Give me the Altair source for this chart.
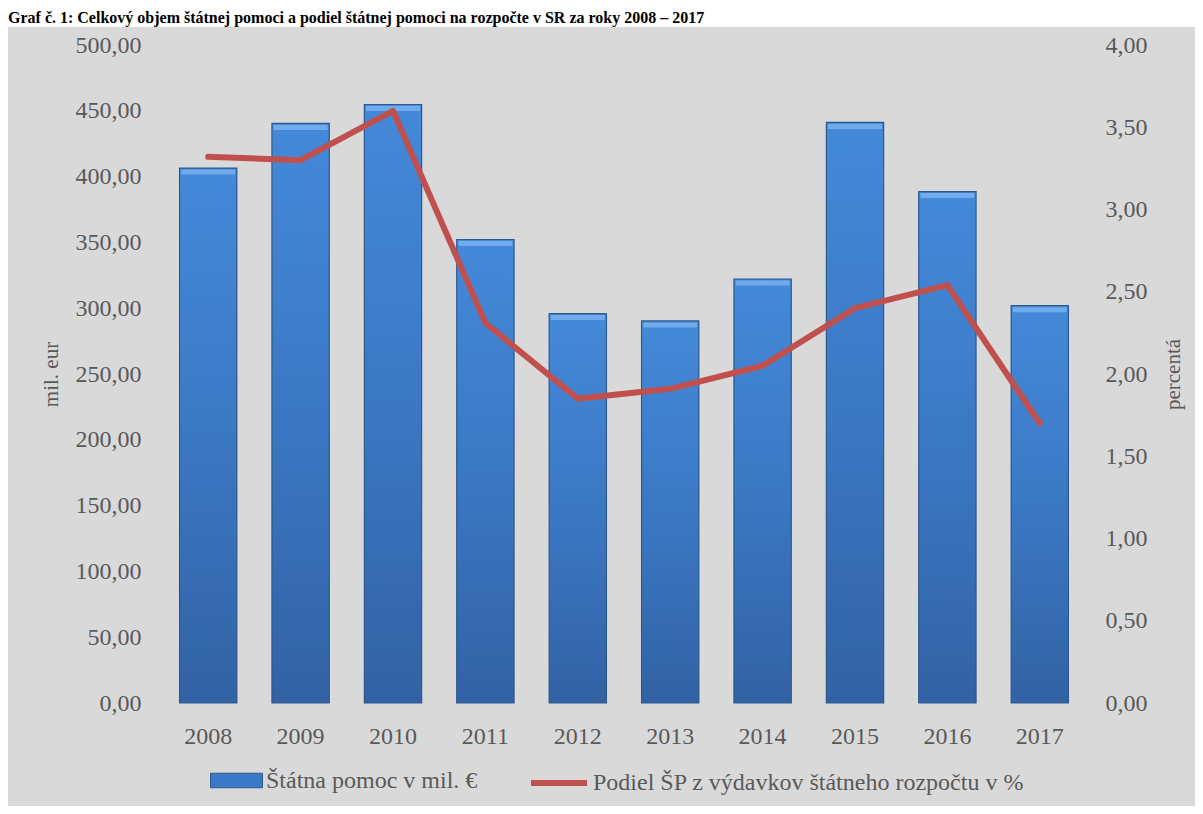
import altair as alt
import pandas as pd

years = ["2008", "2009", "2010", "2011", "2012", "2013", "2014", "2015", "2016", "2017"]
aid = [406.5, 440.4, 454.8, 352.2, 295.9, 290.3, 322.2, 441.2, 388.6, 301.9]
share = [3.32, 3.30, 3.60, 2.31, 1.85, 1.91, 2.05, 2.40, 2.54, 1.70]
bar_label = "Štátna pomoc v mil. €"
line_label = "Podiel ŠP z výdavkov štátneho rozpočtu v %"
left_ticks = [0, 50, 100, 150, 200, 250, 300, 350, 400, 450, 500]
right_ticks = [0, 0.5, 1, 1.5, 2, 2.5, 3, 3.5, 4]
title_text = "Graf č. 1: Celkový objem štátnej pomoci a podiel štátnej pomoci na rozpočte v SR za roky 2008 – 2017"

df = pd.DataFrame({"rok": years, "pomoc": aid, "podiel": share})
df["s1"] = bar_label
df["s2"] = line_label

FONT = "Liberation Serif"
GREY = "#595959"
LBL = "replace(format(datum.value, '.2f'), '.', ',')"
FS = 24

W, H = 924, 658
PAD = {"left": 154, "top": 37, "right": 109, "bottom": 103}

x = alt.X(
    "rok:N",
    title=None,
    scale=alt.Scale(paddingInner=0.38, paddingOuter=0.19),
    axis=alt.Axis(labelAngle=0, labelFont=FONT, labelFontSize=FS, labelColor=GREY,
                  domain=False, ticks=False, tickSize=0, labelPadding=21, zindex=1),
)

y_left = alt.Y(
    "pomoc:Q",
    scale=alt.Scale(domain=[0, 500], nice=False),
    axis=alt.Axis(orient="left", values=left_ticks, labelExpr=LBL, title="mil. eur",
                  grid=False, domain=False, ticks=False, tickSize=0, labelPadding=21,
                  labelFont=FONT, labelFontSize=FS, labelColor=GREY,
                  titleFont=FONT, titleFontSize=21, titleFontWeight="normal",
                  titleColor=GREY, titlePadding=14, zindex=1),
)

# light grey chart panel behind everything (below the white title strip)
panel = alt.Chart(pd.DataFrame({"k": [0]})).mark_rect(color="#d9d9d9", clip=False).encode(
    x=alt.value(-PAD["left"]),
    x2=alt.value(W + PAD["right"]),
    y=alt.value(19 - PAD["top"]),
    y2=alt.value(H + PAD["bottom"]),
)

bar_solid = alt.Chart(df).mark_bar().encode(
    x=x,
    y=y_left,
    color=alt.Color(
        "s1:N",
        scale=alt.Scale(domain=[bar_label], range=["#3b79c6"]),
        legend=alt.Legend(orient="none", legendX=48, legendY=709, title=None,
                          symbolType="M-1,-0.28H1V0.28H-1Z", symbolSize=2704,
                          symbolStrokeColor="#2d5a8e", symbolStrokeWidth=1,
                          labelFont=FONT, labelFontSize=FS, labelColor=GREY,
                          labelOffset=3, labelLimit=800, padding=0),
    ),
)

bar_grad = alt.Chart(df).mark_bar(
    fill=alt.Gradient(
        gradient="linear",
        stops=[alt.GradientStop(color="#4489d9", offset=0),
               alt.GradientStop(color="#3b78c4", offset=0.5),
               alt.GradientStop(color="#3262a4", offset=1)],
        x1=0, x2=0, y1=0, y2=1,
    ),
    stroke="#2d5a8e",
    strokeWidth=1.2,
).encode(x=x, y=y_left)

bevel = alt.Chart(df).mark_tick(
    color="#7db4ef", thickness=5, size=54, yOffset=4, opacity=0.8
).encode(x=x, y=y_left)

line = alt.Chart(df).mark_line(strokeWidth=6, strokeCap="round", strokeJoin="round").encode(
    x=x,
    y=alt.Y(
        "podiel:Q",
        scale=alt.Scale(domain=[0, 4], nice=False),
        axis=alt.Axis(orient="right", values=right_ticks, labelExpr=LBL, title="percentá",
                      grid=False, domain=False, ticks=False, tickSize=0, labelPadding=19,
                      labelFont=FONT, labelFontSize=FS, labelColor=GREY,
                      titleFont=FONT, titleFontSize=21, titleFontWeight="normal",
                      titleColor=GREY, titleAngle=270, titlePadding=36, zindex=1),
    ),
    stroke=alt.Stroke(
        "s2:N",
        scale=alt.Scale(domain=[line_label], range=["#c0504d"]),
        legend=alt.Legend(orient="none", legendX=366, legendY=707, title=None,
                          symbolType="stroke", symbolSize=3136, symbolStrokeWidth=6,
                          labelFont=FONT, labelFontSize=FS, labelColor=GREY,
                          labelOffset=3, labelLimit=800, padding=0),
    ),
)

bars = alt.layer(bar_solid, bar_grad, bevel)

chart = alt.layer(panel, bars, line).resolve_scale(y="independent").properties(
    width=W,
    height=H,
    autosize=alt.AutoSizeParams(type="none"),
    padding=PAD,
    background="#ffffff",
    title=alt.TitleParams(text=title_text, anchor="start", frame="group", dx=-154,
                          dy=15, offset=3, baseline="alphabetic", font=FONT, fontSize=16,
                          fontWeight="bold", color="black"),
).configure_view(stroke=None)

chart.save("out.html", embed_options={"renderer": "svg", "actions": False})
